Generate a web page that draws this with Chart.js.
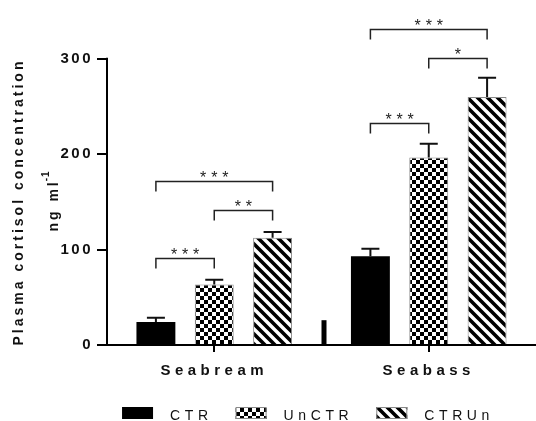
<!DOCTYPE html>
<html lang="en">
<head>
<meta charset="UTF-8">
<title>Plasma cortisol concentration</title>
<script src="https://cdn.jsdelivr.net/npm/chart.js"></script>
<style>
  html, body { margin: 0; padding: 0; background: #fff; }
</style>
</head>
<body>
<canvas id="chart" width="536" height="421"></canvas>
<script>
// data
const groups = ['Seabream', 'Seabass'];
const seriesNames = ['CTR', 'UnCTR', 'CTRUn'];
const ctrMean = [24, 93];
const ctrErr = [4.5, 8];
const unctrMean = [63.5, 196.5];
const unctrErr = [5, 14.5];
const ctrunMean = [112.5, 260];
const ctrunErr = [6, 20];
const yTicks = [0, 100, 200, 300];
// significance brackets: group index, from series, to series, height, stars
const bracketGroup = [0, 0, 0, 1, 1, 1];
const bracketFrom = [0, 1, 0, 0, 1, 0];
const bracketTo = [1, 2, 2, 1, 2, 2];
const bracketY = [91, 142, 172, 233, 300.5, 331];
const bracketText = ['***', '**', '***', '***', '*', '***'];
// the little black stub between the two groups
const stubValue = 26;

const FONT = 'Liberation Sans, Arial, Helvetica, sans-serif';

function checkerPattern() {
    const c = document.createElement('canvas');
    c.width = 8; c.height = 8;
    const g = c.getContext('2d');
    g.fillStyle = '#fff';
    g.fillRect(0, 0, 8, 8);
    g.fillStyle = '#000';
    g.fillRect(0, 0, 4, 4);
    g.fillRect(4, 4, 4, 4);
    return g.createPattern(c, 'repeat');
}

function stripePattern() {
    const s = 10;
    const c = document.createElement('canvas');
    c.width = s; c.height = s;
    const g = c.getContext('2d');
    g.fillStyle = '#fff';
    g.fillRect(0, 0, s, s);
    g.strokeStyle = '#000';
    g.lineWidth = 3.6;
    g.beginPath();
    for (const k of [-s, 0, s]) {
        g.moveTo(k - 2, -2);
        g.lineTo(k + s + 2, s + 2);
    }
    g.stroke();
    return g.createPattern(c, 'repeat');
}

const fills = ['#000', checkerPattern(), stripePattern()];
const means = [ctrMean, unctrMean, ctrunMean];
const errs = [ctrErr, unctrErr, ctrunErr];

// letter spaced tick labels
const spacedTicks = {
    id: 'spacedTicks',
    beforeLayout(chart) {
        for (const [id, sp] of [['x', '4.5px'], ['y', '2.5px']]) {
            const sc = chart.scales[id];
            if (!sc || sc._spaced) continue;
            const orig = sc.drawLabels.bind(sc);
            sc.drawLabels = (area) => {
                chart.ctx.save();
                chart.ctx.letterSpacing = sp;
                orig(area);
                chart.ctx.restore();
            };
            sc._spaced = true;
        }
    }
};

const errorBars = {
    id: 'errorBars',
    afterDatasetsDraw(chart) {
        const ctx = chart.ctx;
        const y = chart.scales.y;
        ctx.save();
        ctx.strokeStyle = '#111';
        ctx.lineWidth = 2;
        chart.data.datasets.forEach((ds, i) => {
            chart.getDatasetMeta(i).data.forEach((bar, j) => {
                const top = y.getPixelForValue(ds.data[j]);
                const hi = y.getPixelForValue(ds.data[j] + ds.errors[j]);
                ctx.beginPath();
                ctx.moveTo(bar.x, top);
                ctx.lineTo(bar.x, hi);
                ctx.moveTo(bar.x - 9, hi);
                ctx.lineTo(bar.x + 9, hi);
                ctx.stroke();
            });
        });
        ctx.restore();
    }
};

const extras = {
    id: 'extras',
    afterDraw(chart) {
        const ctx = chart.ctx;
        const x = chart.scales.x;
        const y = chart.scales.y;
        const area = chart.chartArea;
        ctx.save();

        // y axis line only up to the last tick
        ctx.strokeStyle = '#000';
        ctx.lineWidth = 2;
        ctx.beginPath();
        ctx.moveTo(area.left, y.getPixelForValue(0) + 1);
        ctx.lineTo(area.left, y.getPixelForValue(yTicks[yTicks.length - 1]) - 1);
        ctx.stroke();

        // stub between the groups
        const mid = (x.getPixelForValue(0) + x.getPixelForValue(1)) / 2 + 2;
        ctx.fillStyle = '#000';
        ctx.fillRect(mid - 2, y.getPixelForValue(stubValue), 5, y.getPixelForValue(0) - y.getPixelForValue(stubValue));

        // brackets
        ctx.strokeStyle = '#222';
        ctx.lineWidth = 1.5;
        ctx.fillStyle = '#222';
        ctx.font = '16px ' + FONT;
        ctx.letterSpacing = '4.8px';
        ctx.textAlign = 'center';
        ctx.textBaseline = 'alphabetic';
        bracketY.forEach((v, k) => {
            const g = bracketGroup[k];
            const x1 = chart.getDatasetMeta(bracketFrom[k]).data[g].x;
            const x2 = chart.getDatasetMeta(bracketTo[k]).data[g].x;
            const py = Math.round(y.getPixelForValue(v)) + 0.5;
            ctx.beginPath();
            ctx.moveTo(x1, py + 10);
            ctx.lineTo(x1, py);
            ctx.lineTo(x2, py);
            ctx.lineTo(x2, py + 10);
            ctx.stroke();
            ctx.fillText(bracketText[k], (x1 + x2) / 2 + 2.4, py + 1);
        });

        // y axis title
        ctx.fillStyle = '#111';
        ctx.font = 'bold 14px ' + FONT;
        ctx.letterSpacing = '3px';
        ctx.textBaseline = 'middle';
        ctx.save();
        ctx.translate(19, 202);
        ctx.rotate(-Math.PI / 2);
        ctx.textAlign = 'center';
        ctx.fillText('Plasma cortisol concentration', 0, 0);
        ctx.restore();
        ctx.save();
        ctx.translate(54, 200);
        ctx.rotate(-Math.PI / 2);
        ctx.textAlign = 'left';
        const main = 'ng ml';
        const wMain = ctx.measureText(main).width;
        ctx.font = 'bold 10px ' + FONT;
        ctx.letterSpacing = '1px';
        const wSup = ctx.measureText('-1').width;
        const start = -(wMain + wSup) / 2;
        ctx.fillText('-1', start + wMain - 2, -8);
        ctx.font = 'bold 14px ' + FONT;
        ctx.letterSpacing = '3px';
        ctx.fillText(main, start, 0);
        ctx.restore();

        // legend
        ctx.font = '14px ' + FONT;
        ctx.letterSpacing = '4.6px';
        ctx.textAlign = 'left';
        ctx.textBaseline = 'alphabetic';
        const boxW = 31, boxH = 12, gapText = 17, gapItem = 23;
        const widths = seriesNames.map(n => boxW + gapText + ctx.measureText(n).width);
        const total = widths.reduce((a, b) => a + b, 0) + gapItem * (widths.length - 1);
        let lx = 308 - total / 2;
        seriesNames.forEach((n, i) => {
            ctx.fillStyle = fills[i];
            ctx.fillRect(lx, 407, boxW, boxH);
            if (i > 0) {
                ctx.strokeStyle = '#888';
                ctx.lineWidth = 1;
                ctx.strokeRect(lx + 0.5, 407.5, boxW - 1, boxH - 1);
            }
            ctx.fillStyle = '#111';
            ctx.fillText(n, lx + boxW + gapText, 420);
            lx += widths[i] + gapItem;
        });

        ctx.restore();
    }
};

new Chart(document.getElementById('chart'), {
    type: 'bar',
    data: {
        labels: groups,
        datasets: seriesNames.map((name, i) => ({
            label: name,
            data: means[i],
            errors: errs[i],
            backgroundColor: fills[i],
            borderColor: i === 0 ? '#000' : '#888',
            borderWidth: i === 0 ? 0 : 1,
            barPercentage: 0.667,
            categoryPercentage: 0.816
        }))
    },
    options: {
        responsive: false,
        animation: false,
        devicePixelRatio: 1,
        layout: { padding: 0 },
        plugins: {
            legend: { display: false },
            tooltip: { enabled: false }
        },
        scales: {
            x: {
                offset: true,
                grid: {
                    offset: false,
                    drawOnChartArea: false,
                    tickLength: 7,
                    color: '#000',
                    lineWidth: 2
                },
                border: { display: true, color: '#000', width: 2 },
                ticks: {
                    color: '#111',
                    padding: 10,
                    font: { family: FONT, size: 15, weight: 'bold' }
                },
                afterFit(s) { s.height = 76; }
            },
            y: {
                min: 0,
                max: 348,
                afterBuildTicks(s) { s.ticks = yTicks.map(v => ({ value: v })); },
                grid: {
                    drawOnChartArea: false,
                    tickLength: 10,
                    color: '#000',
                    lineWidth: 2
                },
                border: { display: false },
                ticks: {
                    color: '#111',
                    padding: 4,
                    font: { family: FONT, size: 15, weight: 'bold' }
                },
                afterFit(s) { s.width = 107; }
            }
        }
    },
    plugins: [spacedTicks, errorBars, extras]
});
</script>
</body>
</html>
